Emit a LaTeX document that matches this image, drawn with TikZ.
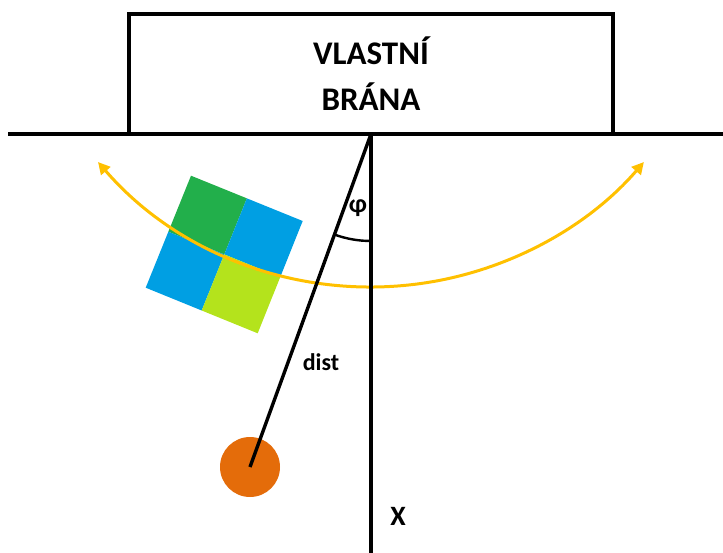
\documentclass[tikz,border=0pt]{standalone}
\usepackage{fontspec}
\setmainfont{Carlito}
\usetikzlibrary{arrows.meta,calc}
\definecolor{qgreen}{HTML}{22AF4B}
\definecolor{qblue}{HTML}{009FE3}
\definecolor{qlime}{HTML}{B4E31C}
\definecolor{swing}{HTML}{FFC000}
\definecolor{ball}{HTML}{E46C0A}
\tikzset{
  blk/.style={line width=3.4pt, black},
  gatebox/.style={draw, line width=3.4pt, minimum width=484pt, minimum height=120pt, inner sep=0pt, align=center, font=\fontsize{33}{46}\selectfont\bfseries},
  lbl/.style={font=\fontsize{24}{26}\selectfont\bfseries, inner sep=0pt},
}
\begin{document}
\begin{tikzpicture}[x=1pt,y=-1pt]
\useasboundingbox (0,0) rectangle (723,553);
% quadrants
\coordinate (T) at (191,175.7);
\coordinate (R) at (302.7,221);
\coordinate (B) at (257.7,333.3);
\coordinate (L) at (145.7,287.7);
\coordinate (C) at (224.3,254.4);
\coordinate (TR) at ($(T)!0.5!(R)$);
\coordinate (RB) at ($(R)!0.5!(B)$);
\coordinate (BL) at ($(B)!0.5!(L)$);
\coordinate (LT) at ($(L)!0.5!(T)$);
\fill[qgreen] (T) -- (TR) -- (C) -- (LT) -- cycle;
\fill[qblue] (TR) -- (R) -- (RB) -- (C) -- cycle;
\fill[qblue] (LT) -- (C) -- (BL) -- (L) -- cycle;
\fill[qlime] (C) -- (RB) -- (B) -- (BL) -- cycle;
% box
\node[gatebox] (gate) at (371,74) {VLASTNÍ\\BRÁNA};
\coordinate (pivot) at (371,134);
\coordinate (gl) at (8,134);
\coordinate (gr) at (723,134);
\coordinate (bottom) at (371,553);
% swing arc
\coordinate (sa) at (98,162);
\draw[swing, line width=3pt, {Triangle[length=12pt,width=12pt]}-{Triangle[length=12pt,width=12pt]}]
  (sa) arc[start angle=139.2, end angle=40.8, radius=360.6];
% ball
\node[circle, fill=ball, minimum size=60pt, inner sep=0pt] (ballnode) at (250,467) {};
% lines
\draw[blk] (gl) -- (gr);
\draw[blk] (pivot) -- (bottom);
\draw[blk] (pivot) -- (ballnode.center);
% angle
\draw[line width=2.4pt] ($(pivot)+(0,107)$) arc[start angle=90, end angle=110, radius=107];
\node[lbl, font=\fontsize{26}{28}\selectfont\bfseries] (phi) at (358,208) {φ};
\node[lbl] (dist) at (321,362) {dist};
\node[lbl, font=\fontsize{28}{30}\selectfont\bfseries] (xl) at (398,516) {X};
\end{tikzpicture}
\end{document}
